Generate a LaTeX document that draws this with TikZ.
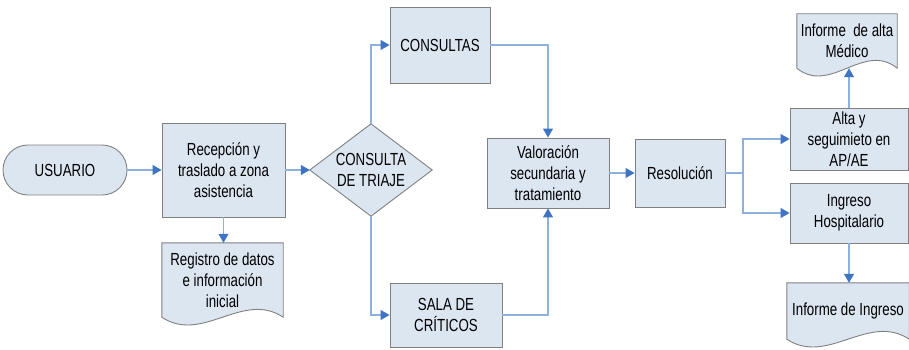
\documentclass[tikz,border=0pt]{standalone}
\usepackage{fontspec}
\setmainfont[FakeStretch=0.76]{Liberation Sans}
\usetikzlibrary{arrows.meta,calc,backgrounds}

\definecolor{boxfill}{HTML}{DCE6F1}
\definecolor{boxline}{HTML}{808080}
\definecolor{linkblue}{HTML}{8DB0DE}
\definecolor{tipblue}{HTML}{3F74C2}

\tikzset{
  x=1pt, y=-1pt,
  lbl/.style={align=center, inner sep=0pt, text=black,
    font=\fontsize{17.5}{21}\selectfont},
  procbox/.style={lbl, draw=boxline, fill=boxfill, line width=0.9pt},
  startbox/.style={procbox, rounded corners=24.9pt},
  frame/.style={lbl, draw=none},
  shapeline/.style={draw=boxline, fill=boxfill, line width=0.9pt},
  arr/.style={draw=linkblue, line width=1.1pt,
    -{Triangle[length=9pt,width=10pt,color=tipblue,fill=tipblue]}},
  link/.style={draw=linkblue, line width=1.1pt},
}

% document symbol: flat top, wavy bottom edge
\newcommand\docoutline[1]{%
  \path[shapeline] (#1.north west) -- (#1.south west)
    .. controls ($(#1.south west)!1/3!(#1.south east)+(0,27)$)
       and ($(#1.south west)!2/3!(#1.south east)+(0,-27)$)
    .. (#1.south east) -- (#1.north east) -- cycle;}

\begin{document}
\begin{tikzpicture}
\useasboundingbox (0,0) rectangle (909,350);

% process steps
\node[startbox, minimum width=124pt, minimum height=50pt] (usuario) at (65,170) {USUARIO};
\node[procbox, minimum width=123pt, minimum height=94pt] (recep) at (223.5,170)
  {Recepción y\\traslado a zona\\asistencia};
\node[frame, minimum width=121pt, minimum height=74pt] (registro) at (222.5,280)
  {Registro de datos\\e información\\inicial};
\node[frame, minimum width=122pt, minimum height=92pt] (triaje) at (371,170)
  {CONSULTA\\DE TRIAJE};
\node[procbox, minimum width=100pt, minimum height=76pt] (consultas) at (440,45) {CONSULTAS};
\node[procbox, minimum width=112pt, minimum height=64pt] (sala) at (446,315)
  {SALA DE\\CRÍTICOS};
\node[procbox, minimum width=122pt, minimum height=70pt] (valor) at (548,173)
  {Valoración\\secundaria y\\tratamiento};
\node[procbox, minimum width=90pt, minimum height=68pt] (resol) at (680,173) {Resolución};
\node[procbox, minimum width=118pt, minimum height=62pt] (alta) at (849,139)
  {Alta y\\seguimieto en\\AP/AE};
\node[procbox, minimum width=118pt, minimum height=60pt] (ingreso) at (849,213)
  {Ingreso\\Hospitalario};
\node[frame, minimum width=100pt, minimum height=54pt] (infalta) at (847,41)
  {Informe \ de alta\\Médico};
\node[frame, minimum width=122pt, minimum height=56pt] (infingreso) at (848,311)
  {Informe de Ingreso};

% outlines drawn behind the labels
\begin{scope}[on background layer]
  \docoutline{registro}
  \docoutline{infalta}
  \docoutline{infingreso}
  \path[shapeline] (triaje.west) -- (triaje.north) -- (triaje.east)
    -- (triaje.south) -- cycle;
\end{scope}

% connectors
\coordinate (split) at (743,173);
\draw[arr] (usuario.east) -- (recep.west);
\draw[arr] (recep.east) -- (triaje.west);
\draw[arr] (recep.south) -- (recep.south |- registro.north);
\draw[arr] (triaje.north) |- (consultas.west);
\draw[arr] (triaje.south) |- (sala.west);
\draw[arr] (consultas.east) -| (valor.north);
\draw[arr] (sala.east) -| (valor.south);
\draw[arr] (valor.east) -- (resol.west);
\draw[link] (resol.east) -- (split);
\draw[arr] (split) |- (alta.west);
\draw[arr] (split) |- (ingreso.west);
\draw[arr] (alta.north) -- (alta.north |- infalta.south);
\draw[arr] (ingreso.south) -- (ingreso.south |- infingreso.north);
\end{tikzpicture}
\end{document}
